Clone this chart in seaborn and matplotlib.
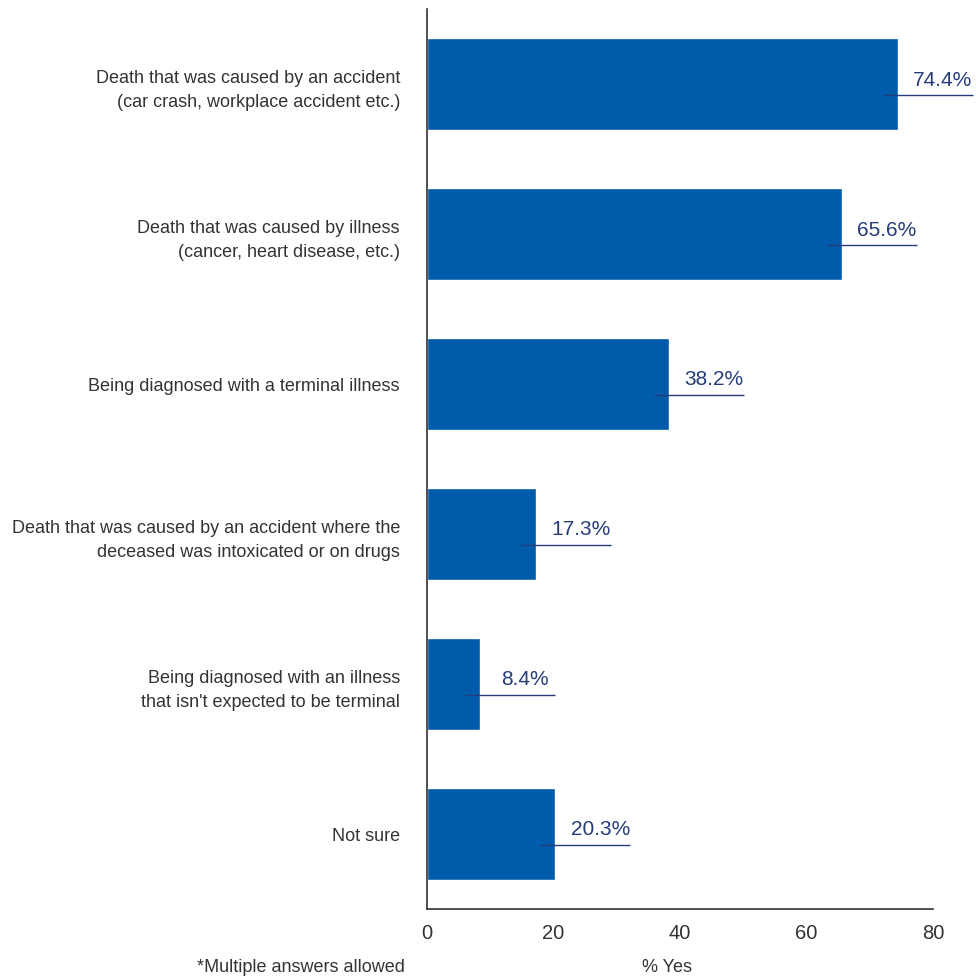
import matplotlib
matplotlib.use("Agg")
import matplotlib.pyplot as plt
import seaborn as sns
import pandas as pd

# Chart data
categories = [
    "Death that was caused by an accident\n(car crash, workplace accident etc.)",
    "Death that was caused by illness\n(cancer, heart disease, etc.)",
    "Being diagnosed with a terminal illness",
    "Death that was caused by an accident where the\ndeceased was intoxicated or on drugs",
    "Being diagnosed with an illness\nthat isn't expected to be terminal",
    "Not sure",
]
values = [74.4, 65.6, 38.2, 17.3, 8.4, 20.3]
x_ticks = [0, 20, 40, 60, 80]

BAR_COLOR = "#005BAA"
LABEL_COLOR = "#263C7A"
TEXT_COLOR = "#333333"

sns.set_style("white")
plt.rcParams["font.family"] = ["Liberation Sans", "DejaVu Sans"]

df = pd.DataFrame({"category": categories, "value": values})

fig = plt.figure(figsize=(9.76, 9.78), dpi=100)
ax = fig.add_axes([427 / 976, 1 - 910 / 978, (933 - 427) / 976, 900 / 978])

sns.barplot(data=df, x="value", y="category", color=BAR_COLOR,
            width=0.61, saturation=1, ax=ax)

ax.set_xlim(0, 80)
ax.set_ylim(5.5, -0.5)
ax.set_xticks(x_ticks)
ax.set_xticklabels([str(t) for t in x_ticks], fontsize=14.5, color=TEXT_COLOR)
ax.tick_params(axis="x", direction="in", length=22, width=1.2, color="#333333",
               pad=10)
ax.tick_params(axis="y", length=0, pad=19.5)
for lbl in ax.get_yticklabels():
    lbl.set_fontsize(13)
    lbl.set_color(TEXT_COLOR)
    lbl.set_linespacing(1.55)

ax.set_xlabel("")
ax.set_ylabel("")
for side in ["top", "right"]:
    ax.spines[side].set_visible(False)
for side in ["left", "bottom"]:
    ax.spines[side].set_color("#333333")
    ax.spines[side].set_linewidth(1.2)

# value labels with a leader line under each number
px = 80 / (933 - 427)
for i, v in enumerate(values):
    x0 = v - 15 * px
    x1 = v + 75 * px
    ax.plot([x0, x1], [i + 0.07, i + 0.07], color=LABEL_COLOR, lw=1,
            clip_on=False, solid_capstyle="butt")
    ax.text(v + 45 * px, i + 0.03, f"{v}%", ha="center", va="bottom",
            fontsize=15, color=LABEL_COLOR, clip_on=False)

fig.text(405 / 976, 1 - 968 / 978, "*Multiple answers allowed", ha="right",
         va="center", fontsize=13, color=TEXT_COLOR)
fig.text(667 / 976, 1 - 968 / 978, "% Yes", ha="center", va="center",
         fontsize=13, color=TEXT_COLOR)

fig.savefig("out.png", dpi=100)
